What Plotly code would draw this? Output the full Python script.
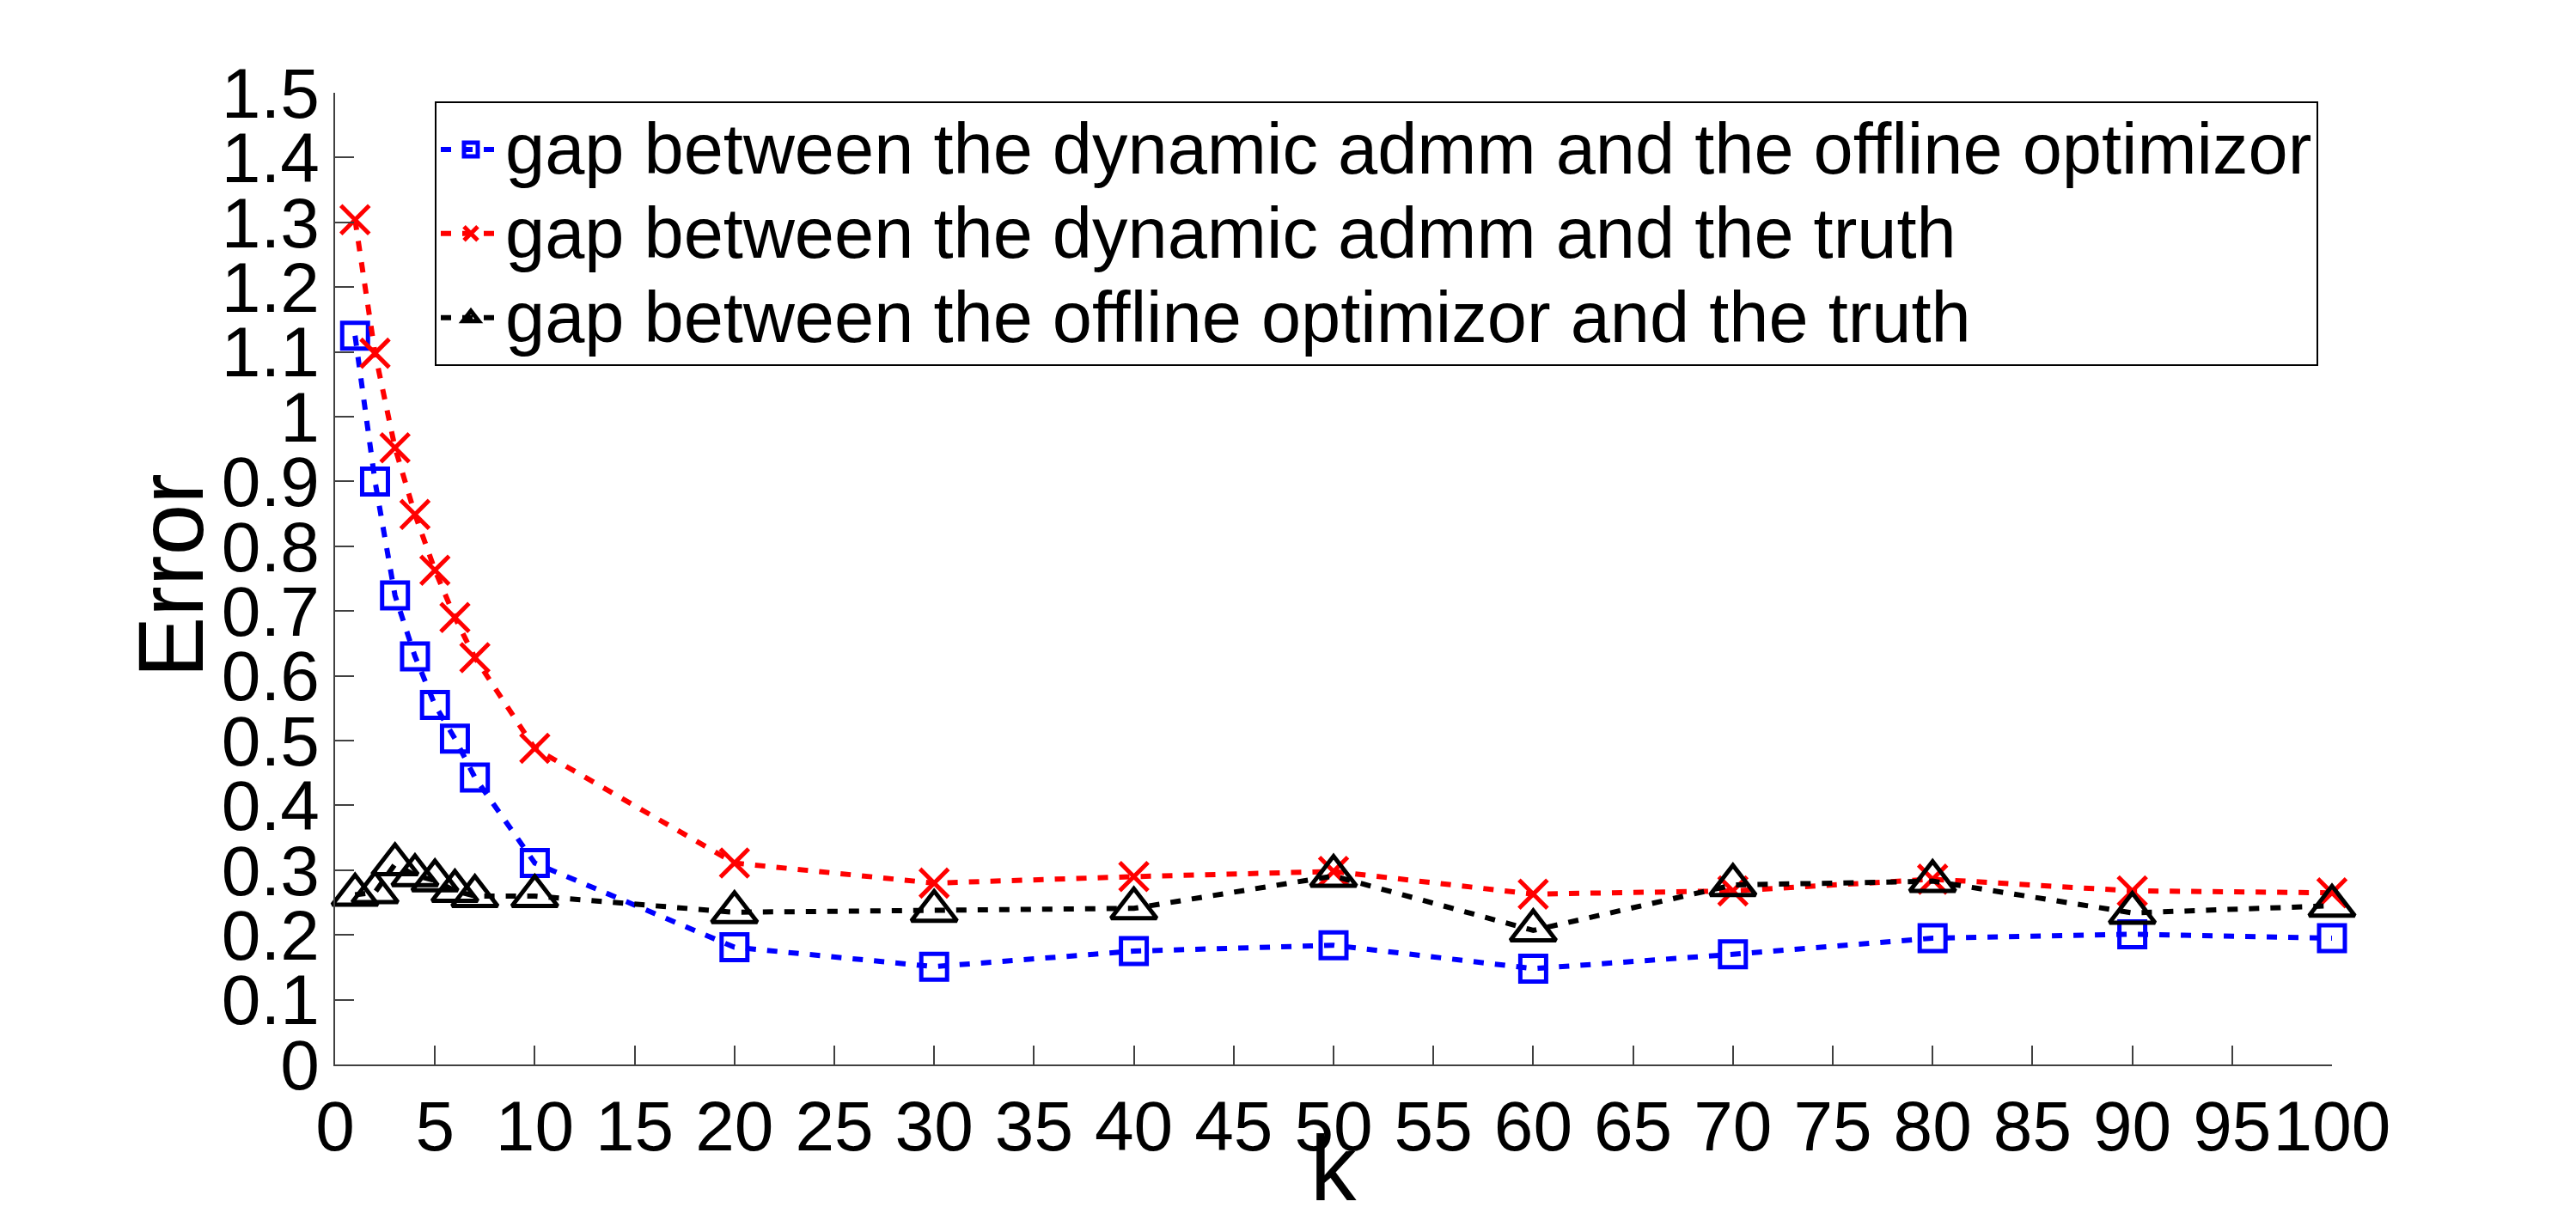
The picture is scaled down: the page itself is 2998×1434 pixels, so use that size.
import plotly.graph_objects as go

# ---- data ----
k_values = [1, 2, 3, 4, 5, 6, 7, 10, 20, 30, 40, 50, 60, 70, 80, 90, 100]
gap_admm_offline = [1.125, 0.900, 0.724, 0.630, 0.555, 0.503, 0.443, 0.311, 0.181, 0.151,
                    0.175, 0.184, 0.148, 0.170, 0.195, 0.201, 0.195]
gap_admm_truth = [1.304, 1.098, 0.952, 0.849, 0.763, 0.690, 0.628, 0.488, 0.311, 0.280,
                  0.290, 0.298, 0.263, 0.268, 0.286, 0.268, 0.265]
gap_offline_truth = [0.262, 0.266, 0.309, 0.292, 0.284, 0.268, 0.260, 0.260, 0.235, 0.237,
                     0.241, 0.291, 0.207, 0.277, 0.283, 0.234, 0.245]

series_names = [
    "gap between the dynamic admm and the offline optimizor",
    "gap between the dynamic admm and the truth",
    "gap between the offline optimizor and the truth",
]

x_tickvals = list(range(0, 101, 5))
x_ticktext = [str(v) for v in x_tickvals]
y_tickvals = [i / 10 for i in range(0, 16)]
y_ticktext = ["0", "0.1", "0.2", "0.3", "0.4", "0.5", "0.6", "0.7", "0.8", "0.9",
              "1", "1.1", "1.2", "1.3", "1.4", "1.5"]
x_title = "k"
y_title = "Error"

FONT = "Liberation Sans, Arial, Helvetica, sans-serif"
W, H = 2998, 1434
ML, MR, MT, MB = 390, 284, 108, 195
PW, PH = W - ML - MR, H - MT - MB

fig = go.Figure()

styles = [
    ("#0000ff", "square-open", 30),
    ("#ff0000", "x-thin-open", 33),
    ("#000000", "triangle-up-open", 46),
]
for name, ys, (col, sym, sz) in zip(series_names,
                                     [gap_admm_offline, gap_admm_truth, gap_offline_truth],
                                     styles):
    fig.add_trace(go.Scatter(
        x=k_values, y=ys,
        name='<span style="font-size:83px">' + name + "</span>",
        mode="lines+markers",
        line=dict(color=col, width=6, dash="12px,13px"),
        marker=dict(symbol=sym, size=sz, color=col, line=dict(color=col, width=5)),
        cliponaxis=False,
    ))

axis_common = dict(
    showline=True, linecolor="#404040", linewidth=1.5,
    ticks="inside", ticklen=22, tickwidth=1.5, tickcolor="#404040",
    showgrid=False, zeroline=False, mirror=False,
    tickfont=dict(family=FONT, size=82, color="black"),
    automargin=False,
)

fig.update_xaxes(range=[0, 100], tickmode="array", tickvals=x_tickvals,
                 ticktext=x_ticktext, **axis_common)
fig.update_yaxes(range=[0, 1.5], tickmode="array", tickvals=y_tickvals,
                 ticktext=y_ticktext, **axis_common)

# axis titles
fig.add_annotation(text=x_title, xref="paper", yref="paper",
                   x=0.5, y=(H - MB - 1360) / PH, xanchor="center", yanchor="middle",
                   showarrow=False, font=dict(family=FONT, size=107, color="black"))
fig.add_annotation(text=y_title, xref="paper", yref="paper", textangle=-90,
                   x=(199 - ML) / PW, y=(H - MB - 670) / PH, xanchor="center", yanchor="middle",
                   showarrow=False, font=dict(family=FONT, size=107, color="black"))

fig.update_layout(
    width=W, height=H,
    margin=dict(l=ML, r=MR, t=MT, b=MB, pad=0),
    paper_bgcolor="white", plot_bgcolor="white",
    font=dict(family=FONT, color="black"),
    legend=dict(
        x=(506 - ML) / PW, y=(H - MB - 118) / PH,
        xanchor="left", yanchor="top",
        bgcolor="white", bordercolor="black", borderwidth=2,
        font=dict(family=FONT, size=73, color="black"),
        itemwidth=70,
    ),
    showlegend=True,
)

fig.write_html("out.html")
